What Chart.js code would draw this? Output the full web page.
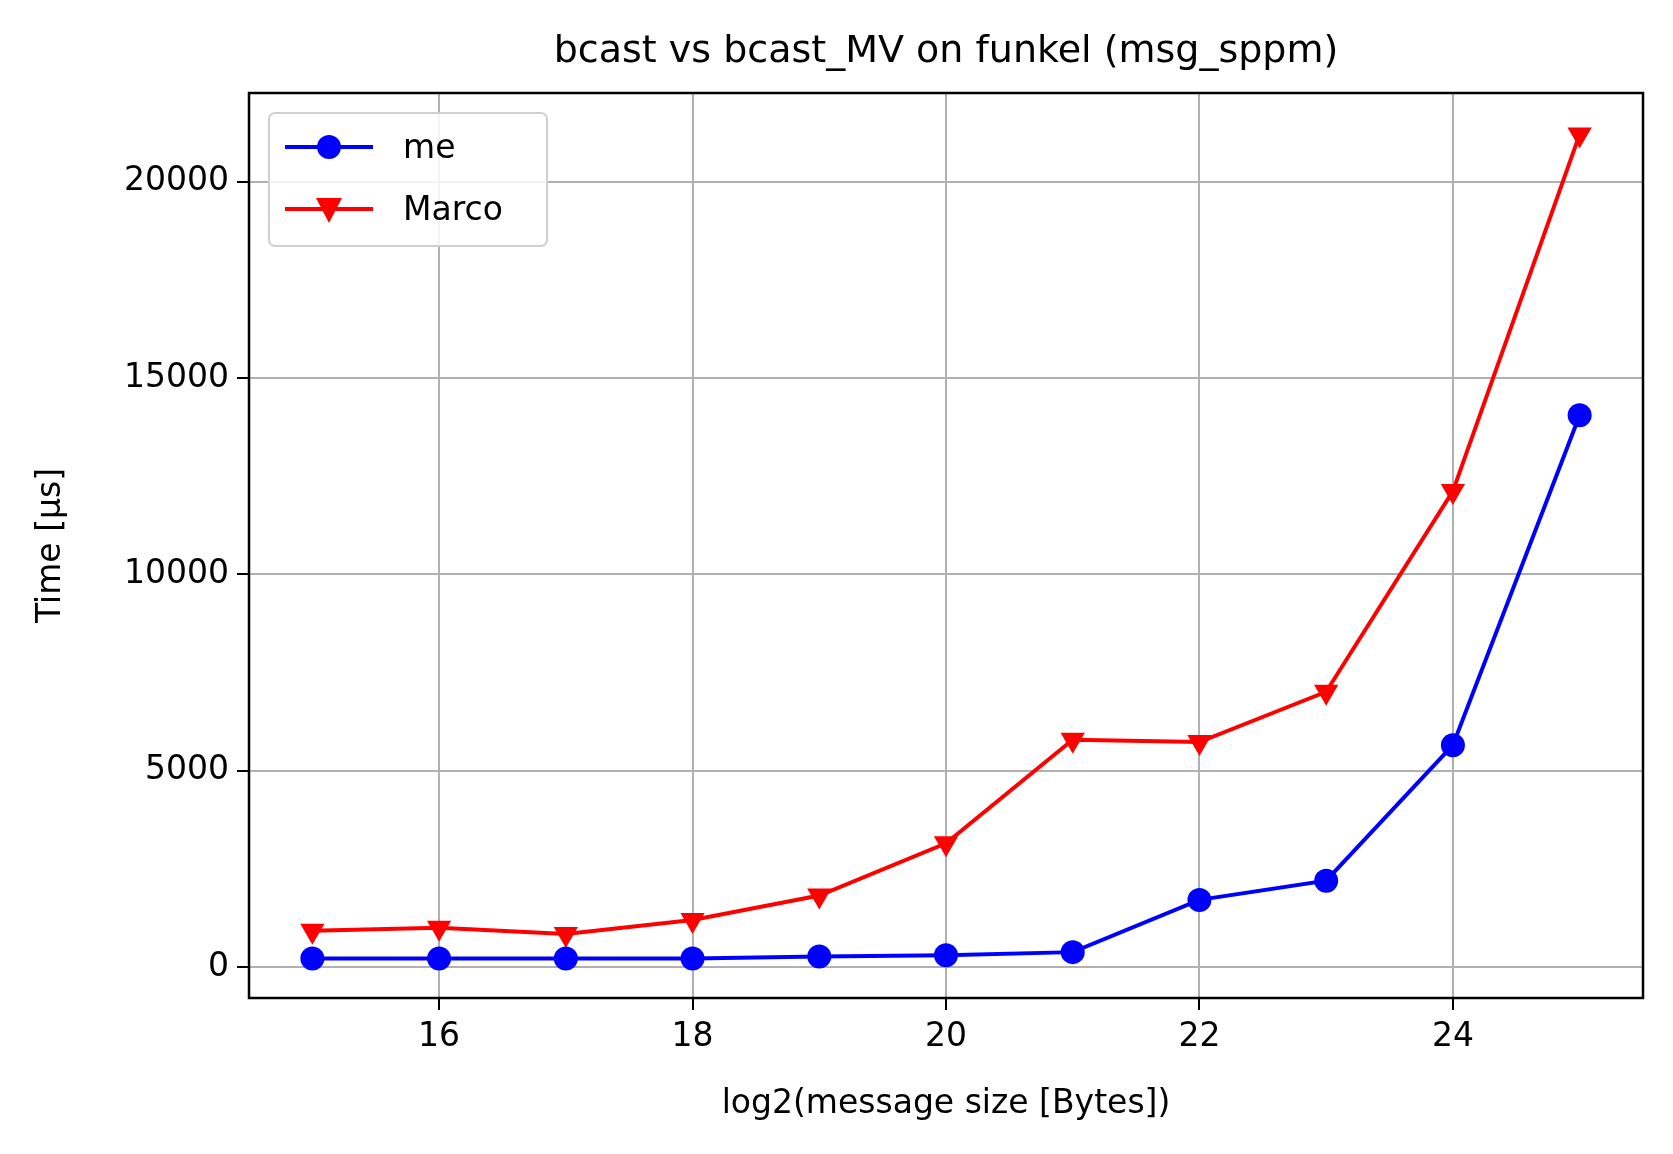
<!DOCTYPE html>
<html>
<head>
<meta charset="utf-8">
<script src="https://cdn.jsdelivr.net/npm/chart.js@4"></script>
<style>
  html, body { margin: 0; padding: 0; background: #fff; }
  #wrap { width: 1673px; height: 1154px; }
</style>
</head>
<body>
<div id="wrap"><canvas id="chart" width="1673" height="1154"></canvas></div>
<script>
const sizes = [15, 16, 17, 18, 19, 20, 21, 22, 23, 24, 25];
const meTimes = [217, 217, 217, 217, 270, 300, 380, 1710, 2200, 5650, 14050];
const marcoTimes = [925, 1000, 840, 1200, 1820, 3150, 5790, 5730, 7010, 12120, 21200];
const xTicks = [16, 18, 20, 22, 24];
const yTicks = [0, 5000, 10000, 15000, 20000];

const font = 'DejaVu Sans';

const frame = {
    id: 'frame',
    afterDraw(chart) {
        const { ctx, chartArea: a } = chart;
        ctx.save();
        ctx.strokeStyle = '#000';
        ctx.lineWidth = 2.5;
        ctx.strokeRect(a.left, a.top, a.right - a.left, a.bottom - a.top);
        // title
        ctx.fillStyle = '#000';
        ctx.font = '38px "' + font + '"';
        ctx.textAlign = 'center';
        ctx.textBaseline = 'middle';
        ctx.fillText('bcast vs bcast_MV on funkel (msg_sppm)', (a.left + a.right) / 2, 52);
        // legend
        const lx = a.left + 20, ly = a.top + 20, w = 278, h = 133;
        ctx.fillStyle = 'rgba(255,255,255,0.85)';
        ctx.strokeStyle = '#d0d0d0';
        ctx.lineWidth = 2;
        ctx.beginPath();
        ctx.roundRect(lx, ly, w, h, 6);
        ctx.fill();
        ctx.stroke();
        const items = [['me', 'blue', 'circle'], ['Marco', 'red', 'tri']];
        items.forEach((it, i) => {
            const cy = ly + 34 + i * 62;
            ctx.strokeStyle = it[1];
            ctx.fillStyle = it[1];
            ctx.lineWidth = 4;
            ctx.beginPath();
            ctx.moveTo(lx + 16, cy);
            ctx.lineTo(lx + 104, cy);
            ctx.stroke();
            ctx.beginPath();
            if (it[2] === 'circle') {
                ctx.arc(lx + 60, cy, 12, 0, Math.PI * 2);
            } else {
                ctx.moveTo(lx + 47, cy - 11);
                ctx.lineTo(lx + 73, cy - 11);
                ctx.lineTo(lx + 60, cy + 14);
                ctx.closePath();
            }
            ctx.fill();
            ctx.fillStyle = '#000';
            ctx.font = '33px "' + font + '"';
            ctx.textAlign = 'left';
            ctx.fillText(it[0], lx + 134, cy + 2);
        });
        ctx.restore();
    }
};

new Chart(document.getElementById('chart'), {
    type: 'line',
    data: {
        datasets: [
            {
                label: 'me',
                data: sizes.map((s, i) => ({ x: s, y: meTimes[i] })),
                borderColor: 'blue',
                backgroundColor: 'blue',
                borderWidth: 4,
                pointStyle: 'circle',
                pointRadius: 12,
                pointBorderWidth: 0,
                tension: 0
            },
            {
                label: 'Marco',
                data: sizes.map((s, i) => ({ x: s, y: marcoTimes[i] })),
                borderColor: 'red',
                backgroundColor: 'red',
                borderWidth: 4,
                pointStyle: 'triangle',
                pointRotation: 180,
                pointRadius: 14,
                pointBorderWidth: 0,
                tension: 0
            }
        ]
    },
    options: {
        responsive: false,
        animation: false,
        layout: { padding: { top: 93, left: 28, right: 30, bottom: 26 } },
        plugins: { legend: { display: false }, title: { display: false }, tooltip: { enabled: false } },
        scales: {
            x: {
                type: 'linear',
                min: 14.5,
                max: 25.5,
                afterBuildTicks: s => { s.ticks = xTicks.map(v => ({ value: v })); },
                afterFit: s => { s.height = 130; },
                grid: { color: '#b0b0b0', lineWidth: 2, tickColor: '#000', tickLength: 12 },
                border: { display: false },
                ticks: { color: '#000', font: { family: font, size: 33 }, padding: 8, callback: v => String(v) },
                title: { display: true, text: 'log2(message size [Bytes])', color: '#000', font: { family: font, size: 33 }, padding: { top: 4 } }
            },
            y: {
                min: -788,
                max: 22255,
                afterBuildTicks: s => { s.ticks = yTicks.map(v => ({ value: v })); },
                afterFit: s => { s.width = 221; },
                grid: { color: '#b0b0b0', lineWidth: 2, tickColor: '#000', tickLength: 12 },
                border: { display: false },
                ticks: { color: '#000', font: { family: font, size: 33 }, padding: 8, callback: v => String(v) },
                title: { display: true, text: 'Time [µs]', color: '#000', font: { family: font, size: 33 }, padding: { bottom: 10 } }
            }
        }
    },
    plugins: [frame]
});
</script>
</body>
</html>
